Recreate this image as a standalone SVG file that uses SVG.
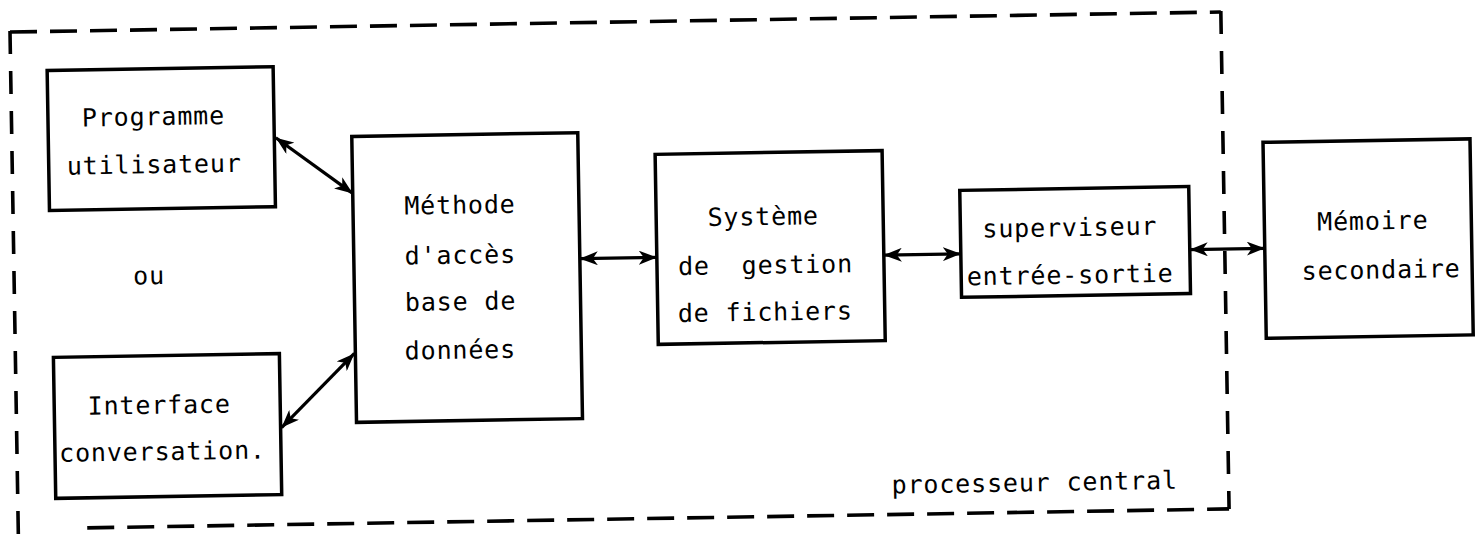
<svg xmlns="http://www.w3.org/2000/svg" width="1481" height="534" viewBox="0 0 1481 534">
  <style>
    .box { fill: #fff; stroke: #000; stroke-width: 3.5; stroke-linejoin: miter; }
    .frame { fill: none; stroke: #000; stroke-width: 3.6; }
    .frame-h { stroke-dasharray: 27 13; }
    .frame-v { stroke-dasharray: 23 17; }
    .link { fill: none; stroke: #000; stroke-width: 3.2; marker-start: url(#head); marker-end: url(#head); }
    text { font-family: "DejaVu Sans Mono", "Liberation Mono", monospace; font-size: 25px; letter-spacing: 0.85px; fill: #000; }
    .c { text-anchor: middle; }
  </style>
  <defs>
    <marker id="head" viewBox="0 0 18 14" refX="18" refY="7" markerWidth="18" markerHeight="14" markerUnits="userSpaceOnUse" orient="auto-start-reverse">
      <path d="M0,0 L18,7 L0,14 L5,7 z" fill="#000"/>
    </marker>
  </defs>

  <rect width="1481" height="534" fill="#fff"/>

  <!-- the whole sheet sits at a slight tilt -->
  <g transform="rotate(-0.95 740 267)">

    <!-- dashed outline of the central processor -->
    <g id="processeur-central">
      <path class="frame frame-h" d="M14,20 H1225"/>
      <path class="frame frame-v" d="M1225,19 V517"/>
      <path class="frame frame-h" d="M83,517 H1225"/>
      <path class="frame frame-v" d="M14,19 V530"/>
      <text x="888" y="496">processeur central</text>
    </g>

    <!-- connectors -->
    <g id="connectors">
      <path class="link" d="M278,130 L354,187"/>
      <path class="link" d="M279,420 L353,347"/>
      <path class="link" d="M580,256 H657"/>
      <path class="link" d="M884,257.5 H961"/>
      <path class="link" d="M1190,257 H1265"/>
    </g>

    <g id="programme-utilisateur">
      <rect class="box" x="50.5" y="59" width="226" height="140"/>
      <text class="c" x="156" y="115.5">Programme</text>
      <text class="c" x="156" y="163.5">utilisateur</text>
    </g>

    <g id="ou">
      <text class="c" x="149" y="274.5">ou</text>
    </g>

    <g id="interface-conversation">
      <rect class="box" x="52" y="346" width="226" height="141"/>
      <text class="c" x="157" y="404">Interface</text>
      <text class="c" x="159.5" y="450.5">conversation.</text>
    </g>

    <g id="methode-acces">
      <rect class="box" x="354" y="130" width="226" height="286"/>
      <text class="c" x="461" y="209">Méthode</text>
      <text class="c" x="460.5" y="259">d'accès</text>
      <text class="c" x="460" y="305.5">base de</text>
      <text class="c" x="459" y="354">données</text>
    </g>

    <g id="systeme-gestion-fichiers">
      <rect class="box" x="657" y="153" width="227" height="190"/>
      <text class="c" x="764" y="225.5">Système</text>
      <text class="c" x="765.5" y="274" style="white-space:pre">de  gestion</text>
      <text class="c" x="764.5" y="321">de fichiers</text>
    </g>

    <g id="superviseur-es">
      <rect class="box" x="961" y="194" width="229" height="107"/>
      <text class="c" x="1070.5" y="241.5">superviseur</text>
      <text class="c" x="1070" y="289">entrée-sortie</text>
    </g>

    <g id="memoire-secondaire">
      <rect class="box" x="1265" y="151" width="207" height="196"/>
      <text class="c" x="1373.5" y="240">Mémoire</text>
      <text class="c" x="1381" y="289">secondaire</text>
    </g>
  </g>
</svg>
